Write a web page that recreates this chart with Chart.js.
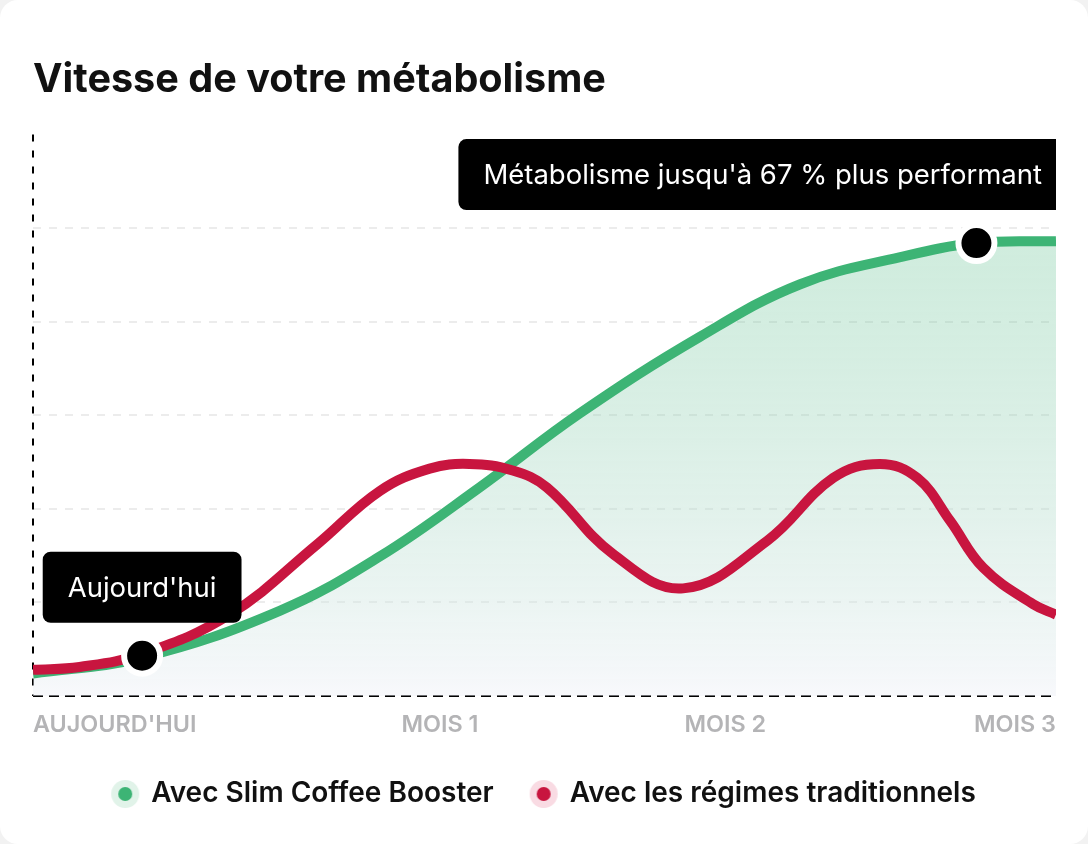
<!DOCTYPE html>
<html lang="fr">
<head>
<meta charset="utf-8">
<title>Vitesse de votre métabolisme</title>
<script src="https://cdn.jsdelivr.net/npm/chart.js@4.4.1/dist/chart.umd.min.js"></script>
<style>
  html, body { margin: 0; padding: 0; background: #f2f2f2; }
  .card { width: 1088px; height: 844px; background: #fff; border-radius: 18px; overflow: hidden; }
</style>
</head>
<body>
<div class="card"><canvas id="myChart"></canvas></div>
<script>
// jours depuis aujourd'hui (0 -> 90) et vitesse relative du métabolisme
var greenDays   = [0, 9.6, 21.7, 30.5, 39.3, 48.1, 58.7, 67.5, 76.3, 83.0, 90];
var greenValues = [0.24, 0.41, 0.91, 1.49, 2.23, 3.02, 3.84, 4.40, 4.69, 4.84, 4.86];

var redDays   = [0, 4.1, 9.6, 17.3, 25.0, 30.5, 34.9, 38.4, 42.2, 45.2, 51.0, 57.2, 64.6, 70.4, 74.5,
                 77.8, 80.7, 83.6, 88.0, 90];
var redValues = [0.28, 0.31, 0.45, 0.87, 1.62, 2.19, 2.43, 2.48, 2.41, 2.23, 1.52, 1.15, 1.66, 2.33, 2.48,
                 2.33, 1.87, 1.37, 0.98, 0.87];

var markerDays   = [9.6, 83.0];
var markerValues = [0.43, 4.84];
var calloutTexts = ["Aujourd'hui", "Métabolisme jusqu'à 67 % plus performant"];

var tickDays   = [0, 35.8, 60.9, 90];
var tickLabels = ["AUJOURD'HUI", 'MOIS 1', 'MOIS 2', 'MOIS 3'];

var seriesNames = ['Avec Slim Coffee Booster', 'Avec les régimes traditionnels'];

var GREEN = '#3db475';
var RED = '#c8153f';

function toPoints(xs, ys) {
    var pts = [];
    for (var i = 0; i < xs.length; i++) {
        pts.push({x: xs[i], y: ys[i]});
    }
    return pts;
}

// petit rond avec halo pour la légende
function makeDot(halo, core) {
    var c = document.createElement('canvas');
    c.width = 30; c.height = 30;
    var x = c.getContext('2d');
    x.fillStyle = halo;
    x.beginPath(); x.arc(15, 15, 14, 0, Math.PI * 2); x.fill();
    x.fillStyle = core;
    x.beginPath(); x.arc(15, 15, 7, 0, Math.PI * 2); x.fill();
    return c;
}
var legendDots = [makeDot('#e1f3e9', GREEN), makeDot('#f9dbe3', RED)];

// axes en pointillés noirs
var axisPlugin = {
    id: 'dashedAxes',
    beforeDatasetsDraw: function(chart) {
        var a = chart.chartArea;
        var ctx = chart.ctx;
        ctx.save();
        ctx.strokeStyle = '#000';
        ctx.lineWidth = 2;
        ctx.setLineDash([7, 9]);
        ctx.beginPath();
        ctx.moveTo(a.left, a.top);
        ctx.lineTo(a.left, a.bottom);
        ctx.stroke();
        ctx.setLineDash([10, 6]);
        ctx.beginPath();
        ctx.moveTo(a.left, a.bottom);
        ctx.lineTo(a.right, a.bottom);
        ctx.stroke();
        ctx.restore();
    }
};

// bulles noires au-dessus des marqueurs
var calloutPlugin = {
    id: 'callouts',
    afterDatasetsDraw: function(chart) {
        var ctx = chart.ctx;
        var area = chart.chartArea;
        var meta = chart.getDatasetMeta(2);
        ctx.save();
        ctx.font = '400 27.5px Inter';
        meta.data.forEach(function(pt, i) {
            var text = calloutTexts[i];
            var w = ctx.measureText(text).width + 50;
            var h = 71;
            var x = Math.min(pt.x - w / 2, area.right + 11 - w);
            var y = pt.y - 33 - h;
            ctx.save();
            ctx.beginPath();
            ctx.rect(0, 0, area.right, chart.height);
            ctx.clip();
            ctx.fillStyle = '#000';
            ctx.beginPath();
            ctx.roundRect(x, y, w, h, 8);
            ctx.fill();
            ctx.fillStyle = '#fff';
            ctx.textBaseline = 'middle';
            ctx.fillText(text, x + 25, y + h / 2 + 1);
            ctx.restore();
        });
        ctx.restore();
    }
};

Chart.defaults.font.family = 'Inter';

var ctx = document.getElementById('myChart').getContext('2d');
var myChart = new Chart(ctx, {
    type: 'line',
    data: {
        datasets: [
            {
                label: seriesNames[0],
                data: toPoints(greenDays, greenValues),
                borderColor: GREEN,
                borderWidth: 10,
                pointRadius: 0,
                tension: 0.4,
                fill: 'origin',
                backgroundColor: function(c) {
                    var area = c.chart.chartArea;
                    if (!area) return 'transparent';
                    var g = c.chart.ctx.createLinearGradient(0, area.top, 0, area.bottom);
                    g.addColorStop(0, 'rgba(61,180,117,0.26)');
                    g.addColorStop(1, 'rgba(238,240,247,0.45)');
                    return g;
                },
                order: 2
            },
            {
                label: seriesNames[1],
                data: toPoints(redDays, redValues),
                borderColor: RED,
                borderWidth: 10,
                pointRadius: 0,
                tension: 0.4,
                fill: false,
                order: 1
            },
            {
                label: 'marqueurs',
                data: toPoints(markerDays, markerValues),
                showLine: false,
                pointRadius: 18,
                pointBorderWidth: 6,
                pointBackgroundColor: '#000',
                pointBorderColor: '#fff',
                order: 0
            }
        ]
    },
    options: {
        responsive: true,
        maintainAspectRatio: false,
        animation: false,
        events: [],
        layout: {
            padding: {top: 40, left: 33, right: 32, bottom: 26}
        },
        scales: {
            x: {
                type: 'linear',
                min: 0,
                max: 90,
                afterBuildTicks: function(scale) {
                    scale.ticks = tickDays.map(function(v) { return {value: v}; });
                },
                afterFit: function(scale) {
                    scale.height = 46;
                },
                grid: {display: false},
                border: {display: false},
                ticks: {
                    align: 'inner',
                    maxRotation: 0,
                    padding: 7,
                    color: '#b4b4b6',
                    font: {size: 23.4, weight: '600'},
                    callback: function(v, i) { return tickLabels[i]; }
                }
            },
            y: {
                min: 0,
                max: 6,
                ticks: {display: false, stepSize: 1},
                grid: {
                    drawTicks: false,
                    lineWidth: 2,
                    color: function(c) {
                        return (c.tick.value > 0 && c.tick.value < 6) ? '#ececec' : 'transparent';
                    }
                },
                // dans Chart.js 4, border.dash règle les pointillés de la grille
                border: {display: false, dash: [8, 8]}
            }
        },
        plugins: {
            title: {
                display: true,
                align: 'start',
                text: 'Vitesse de votre métabolisme',
                color: '#111',
                font: {size: 39.6, weight: '700'},
                padding: {top: 16, bottom: 31}
            },
            legend: {
                position: 'bottom',
                labels: {
                    usePointStyle: true,
                    pointStyleWidth: 24,
                    padding: 38,
                    color: '#111',
                    font: {size: 28, weight: '600'},
                    generateLabels: function(chart) {
                        return [0, 1].map(function(i) {
                            return {
                                text: seriesNames[i],
                                pointStyle: legendDots[i],
                                datasetIndex: i,
                                fontColor: '#111',
                                fillStyle: 'transparent',
                                strokeStyle: 'transparent',
                                lineWidth: 0,
                                hidden: false
                            };
                        });
                    }
                }
            },
            tooltip: {enabled: false}
        }
    },
    plugins: [axisPlugin, calloutPlugin]
});
</script>
</body>
</html>
